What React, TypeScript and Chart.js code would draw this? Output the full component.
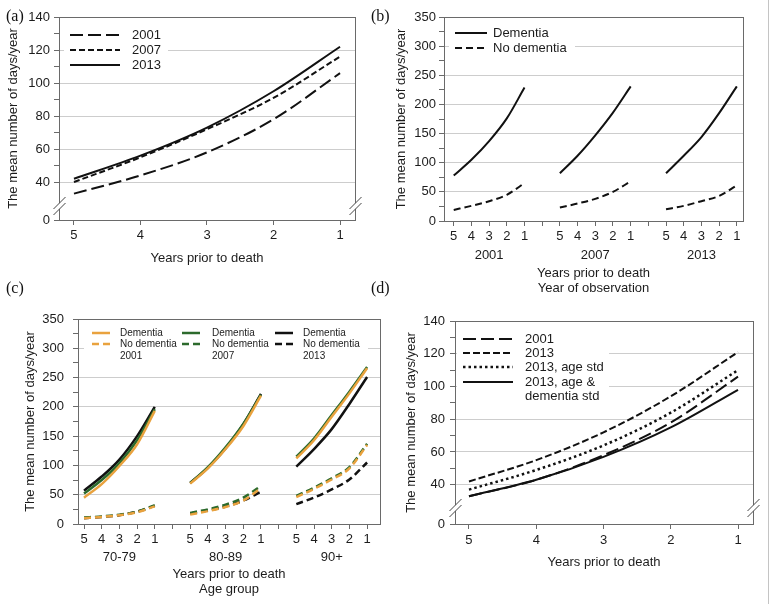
import React, { useEffect, useRef } from 'react';
import { Chart, registerables } from 'chart.js';
Chart.register(...registerables);

// ---------- data ----------
const YEARS_PRIOR = [5, 4, 3, 2, 1];

// (a)
const A_2001 = [33, 44, 58, 78, 106];
const A_2007 = [40, 55, 72, 91, 116];
const A_2013 = [42, 56, 73, 95, 122];

// (b)
const OBS_YEARS = ['2001', '2007', '2013'];
const B_DEMENTIA = [[78, 105, 137, 176, 229], [82, 112, 147, 186, 231], [82, 112, 144, 185, 231]];
const B_NO_DEMENTIA = [[19, 26, 34, 45, 65], [23, 30, 38, 50, 68], [20, 26, 34, 43, 61]];

// (c)
const AGE_GROUPS = ['70-79', '80-89', '90+'];
const C_DEM_2001 = [[45, 68, 99, 136, 193], [69, 95, 128, 167, 219], [112, 143, 183, 223, 266]];
const C_DEM_2007 = [[52, 75, 104, 143, 196], [70, 97, 131, 171, 221], [115, 146, 186, 226, 268]];
const C_DEM_2013 = [[57, 81, 110, 150, 200], [70, 96, 129, 170, 222], [98, 128, 162, 205, 251]];
const C_NODEM_2001 = [[10, 12, 15, 20, 30], [16, 22, 29, 40, 61], [46, 60, 76, 95, 135]];
const C_NODEM_2007 = [[11, 13, 16, 21, 32], [19, 25, 33, 45, 65], [48, 62, 78, 97, 137]];
const C_NODEM_2013 = [[10, 12, 15, 21, 31], [18, 23, 30, 40, 55], [34, 45, 59, 76, 105]];

// (d)
const D_2001 = [33, 43, 58, 78, 106];
const D_2013 = [42, 55, 72, 94, 121];
const D_2013_AGE = [37, 49, 64, 84, 110];
const D_2013_AGE_DEM = [33, 43, 57, 75, 98];

// ---------- style ----------
const FONT = '"Liberation Sans", Arial, Helvetica, sans-serif';
const TEXT = '#1c1c1c';
const GRID = '#cdcdcd';
const AXIS = '#6a6a6a';
const BLACK = '#111111';
const ORANGE = '#E9A23E';
const GREEN = '#2C6A2C';
const Y_TITLE = 'The mean number of days/year';

function line(label: string, data: any[], color: string, width: number, dash: number[]) {
  return {
    label, data, borderColor: color, borderWidth: width, borderDash: dash,
    pointRadius: 0, pointHoverRadius: 0, cubicInterpolationMode: 'monotone', fill: false, borderCapStyle: 'butt',
  };
}

const decorPlugin = {
  id: 'decor',
  beforeDatasetsDraw(chart: any, _a: any, opts: any) {
    const ctx = chart.ctx;
    ctx.save();
    ctx.fillStyle = '#ffffff';
    (opts.bg || []).forEach((r: number[]) => ctx.fillRect(r[0], r[1], r[2], r[3]));
    ctx.restore();
  },
  afterDatasetsDraw(chart: any, _a: any, opts: any) {
    const ctx = chart.ctx;
    const { left, right, top, bottom } = chart.chartArea;
    ctx.save();
    ctx.strokeStyle = AXIS;
    ctx.lineWidth = 1;
    ctx.setLineDash([]);
    const L = Math.round(left) + 0.5, R = Math.round(right) + 0.5;
    const T = Math.round(top) + 0.5, B = Math.round(bottom) + 0.5;
    ctx.strokeRect(L, T, R - L, B - T);
    if (opts.breakOffset) {
      const yc = bottom - opts.breakOffset;
      [L, R].forEach((x0) => {
        ctx.fillStyle = '#ffffff';
        ctx.beginPath();
        ctx.moveTo(x0 - 6, yc + 3);
        ctx.lineTo(x0 + 6, yc - 9);
        ctx.lineTo(x0 + 6, yc - 3);
        ctx.lineTo(x0 - 6, yc + 9);
        ctx.closePath();
        ctx.fill();
        ctx.strokeStyle = '#444';
        ctx.beginPath();
        ctx.moveTo(x0 - 6, yc + 3); ctx.lineTo(x0 + 6, yc - 9);
        ctx.moveTo(x0 - 6, yc + 9); ctx.lineTo(x0 + 6, yc - 3);
        ctx.stroke();
      });
    }
    const font = `${opts.fontSize || 13}px ${FONT}`;
    ctx.font = font;
    ctx.textBaseline = 'middle';
    ctx.textAlign = 'left';
    (opts.items || []).forEach((it: any) => {
      const ds = chart.data.datasets[it.ds];
      ctx.beginPath();
      ctx.strokeStyle = ds.borderColor;
      ctx.lineWidth = ds.borderWidth;
      ctx.setLineDash(ds.borderDash || []);
      ctx.moveTo(it.x, it.y);
      ctx.lineTo(it.x + it.w, it.y);
      ctx.stroke();
      ctx.setLineDash([]);
      ctx.fillStyle = TEXT;
      ctx.fillText(it.text ?? ds.label, it.tx, it.y);
    });
    (opts.texts || []).forEach((t: any) => {
      ctx.fillStyle = TEXT;
      ctx.fillText(t.text, t.x, t.y);
    });
    if (opts.groups) {
      const xs = chart.scales.x;
      ctx.font = `13px ${FONT}`;
      ctx.textAlign = 'center';
      ctx.fillStyle = TEXT;
      opts.groups.labels.forEach((lab: string, i: number) => {
        ctx.fillText(lab, xs.getPixelForValue(opts.groups.centers[i]), bottom + opts.groups.dy);
      });
    }
    ctx.restore();
  },
};

function yScale(o: any) {
  return {
    type: 'linear', position: 'left', min: o.min, max: o.max,
    afterBuildTicks: (s: any) => { s.ticks = o.ticks.map((v: number) => ({ value: v })); },
    afterFit: (s: any) => { s.width = o.width; },
    ticks: {
      autoSkip: false, padding: o.tickPad, color: TEXT, font: { family: FONT, size: 13 },
      callback: (v: number) => o.label(v),
    },
    grid: {
      drawTicks: true, tickLength: 5, tickColor: AXIS, lineWidth: 1,
      color: (c: any) => (c.tick && o.grid(c.tick.value) ? GRID : 'rgba(0,0,0,0)'),
    },
    border: { display: false },
    title: {
      display: true, text: Y_TITLE, color: TEXT, font: { family: FONT, size: 13 },
      padding: { top: o.titlePad, bottom: 0 },
    },
  };
}

function xYearsScale(o: any) {
  return {
    type: 'linear', position: 'bottom', reverse: true, min: o.min, max: o.max,
    afterBuildTicks: (s: any) => { s.ticks = YEARS_PRIOR.map((v) => ({ value: v })); },
    afterFit: (s: any) => { s.height = o.height; },
    ticks: { autoSkip: false, padding: o.tickPad, color: TEXT, font: { family: FONT, size: 13 }, callback: (v: number) => String(v) },
    grid: { drawOnChartArea: false, drawTicks: true, tickLength: 5, tickColor: AXIS },
    border: { display: false },
    title: { display: true, text: 'Years prior to death', color: TEXT, font: { family: FONT, size: 13 }, padding: { top: 0, bottom: o.titlePad } },
  };
}

// grouped x positions: group g, years prior yp
const GROUP_STEP = YEARS_PRIOR.length + 1;
const gpos = (g: number, yp: number) => g * GROUP_STEP + (YEARS_PRIOR[0] - yp);
const GROUP_TICKS: number[] = [];
for (let g = 0; g < 3; g++) {
  YEARS_PRIOR.forEach((yp) => GROUP_TICKS.push(gpos(g, yp)));
  if (g < 2) GROUP_TICKS.push(g * GROUP_STEP + YEARS_PRIOR.length);
}
const GROUP_CENTERS = [0, 1, 2].map((g) => gpos(g, YEARS_PRIOR[2]));

function xGroupScale(o: any) {
  return {
    type: 'linear', position: 'bottom', min: o.min, max: o.max,
    afterBuildTicks: (s: any) => { s.ticks = GROUP_TICKS.map((v) => ({ value: v })); },
    afterFit: (s: any) => { s.height = o.height; },
    ticks: {
      autoSkip: false, padding: o.tickPad, color: TEXT, font: { family: FONT, size: 13 },
      callback: (v: number) => {
        const k = v % GROUP_STEP;
        return k < YEARS_PRIOR.length ? String(YEARS_PRIOR[k]) : '';
      },
    },
    grid: { drawOnChartArea: false, drawTicks: true, tickLength: 5, tickColor: AXIS },
    border: { display: false },
    title: { display: true, text: o.title, color: TEXT, font: { family: FONT, size: 13, lineHeight: 1.15 }, padding: { top: 0, bottom: o.titlePad } },
  };
}

const basePlugins = { legend: { display: false }, tooltip: { enabled: false } };

function configA() {
  const pts = (vals: number[]) => YEARS_PRIOR.map((yp, i) => ({ x: yp, y: vals[i] }));
  const datasets = [
    line('2001', pts(A_2001), BLACK, 2, [13, 5]),
    line('2007', pts(A_2007), BLACK, 2, [6, 3]),
    line('2013', pts(A_2013), BLACK, 2, []),
  ];
  const yTicks = [17, 40, 50, 60, 70, 80, 90, 100, 110, 120, 130, 140];
  return {
    type: 'line',
    data: { datasets },
    options: {
      responsive: false, animation: false, devicePixelRatio: 1, events: [],
      layout: { padding: { top: 17, right: 30, left: 0, bottom: 0 } },
      plugins: {
        ...basePlugins,
        decor: {
          breakOffset: 14, fontSize: 13,
          bg: [[64, 25, 104, 50]],
          items: [
            { ds: 0, x: 70, w: 50, tx: 132, y: 35 },
            { ds: 1, x: 70, w: 50, tx: 132, y: 50 },
            { ds: 2, x: 70, w: 50, tx: 132, y: 65 },
          ],
        },
      },
      scales: {
        x: xYearsScale({ min: 0.775, max: 5.225, height: 80, tickPad: 2.2, titlePad: 34 }),
        y: yScale({
          min: 17, max: 140, ticks: yTicks, width: 59, tickPad: 4, titlePad: 6,
          label: (v: number) => (v === 17 ? '0' : v % 20 === 0 ? String(v) : ''),
          grid: (v: number) => v >= 40 && v <= 120 && v % 20 === 0,
        }),
      },
    },
    plugins: [decorPlugin],
  };
}

function configB() {
  const datasets: any[] = [];
  OBS_YEARS.forEach((_, g) => {
    datasets.push(line('Dementia', YEARS_PRIOR.map((yp, i) => ({ x: gpos(g, yp), y: B_DEMENTIA[g][i] })), BLACK, 2, []));
    datasets.push(line('No dementia', YEARS_PRIOR.map((yp, i) => ({ x: gpos(g, yp), y: B_NO_DEMENTIA[g][i] })), BLACK, 2, [7, 4]));
  });
  const yTicks: number[] = [];
  for (let v = 0; v <= 350; v += 25) yTicks.push(v);
  return {
    type: 'line',
    data: { datasets },
    options: {
      responsive: false, animation: false, devicePixelRatio: 1, events: [],
      layout: { padding: { top: 17, right: 29, left: 0, bottom: 0 } },
      plugins: {
        ...basePlugins,
        decor: {
          fontSize: 13,
          bg: [[64, 24, 126, 34]],
          items: [
            { ds: 0, x: 70, w: 32, tx: 108, y: 33 },
            { ds: 1, x: 70, w: 32, tx: 108, y: 48 },
          ],
          groups: { labels: OBS_YEARS, centers: GROUP_CENTERS, dy: 34 },
        },
      },
      scales: {
        x: xGroupScale({ min: -0.55, max: 16.35, height: 79, tickPad: 2.2, titlePad: 4, title: ['Years prior to death', 'Year of observation'] }),
        y: yScale({
          min: 0, max: 350, ticks: yTicks, width: 59, tickPad: 3, titlePad: 9,
          label: (v: number) => (v % 50 === 0 ? String(v) : ''),
          grid: (v: number) => v > 0 && v < 350 && v % 50 === 0,
        }),
      },
    },
    plugins: [decorPlugin],
  };
}

function configC() {
  const series = [
    { label: 'No dementia', vals: C_NODEM_2001, color: ORANGE, dash: [7, 4] },
    { label: 'Dementia', vals: C_DEM_2001, color: ORANGE, dash: [] },
    { label: 'No dementia', vals: C_NODEM_2007, color: GREEN, dash: [7, 4] },
    { label: 'Dementia', vals: C_DEM_2007, color: GREEN, dash: [] },
    { label: 'No dementia', vals: C_NODEM_2013, color: BLACK, dash: [7, 4] },
    { label: 'Dementia', vals: C_DEM_2013, color: BLACK, dash: [] },
  ];
  const datasets: any[] = [];
  const first: number[] = [];
  series.forEach((s) => {
    first.push(datasets.length);
    AGE_GROUPS.forEach((_, g) => {
      datasets.push(line(s.label, YEARS_PRIOR.map((yp, i) => ({ x: gpos(g, yp), y: s.vals[g][i] })), s.color, 2.5, s.dash));
    });
  });
  const yTicks: number[] = [];
  for (let v = 0; v <= 350; v += 25) yTicks.push(v);
  const cols = [{ x: 92, tx: 120, year: '2001', dem: first[1], nod: first[0] },
    { x: 182, tx: 212, year: '2007', dem: first[3], nod: first[2] },
    { x: 275, tx: 303, year: '2013', dem: first[5], nod: first[4] }];
  const items: any[] = [];
  const texts: any[] = [];
  cols.forEach((c) => {
    items.push({ ds: c.dem, x: c.x, w: 18, tx: c.tx, y: 33 });
    items.push({ ds: c.nod, x: c.x, w: 18, tx: c.tx, y: 44 });
    texts.push({ text: c.year, x: c.tx, y: 56 });
  });
  return {
    type: 'line',
    data: { datasets },
    options: {
      responsive: false, animation: false, devicePixelRatio: 1, events: [],
      layout: { padding: { top: 19, right: 5, left: 0, bottom: 0 } },
      plugins: {
        ...basePlugins,
        decor: {
          fontSize: 10,
          bg: [[84, 26, 284, 38]],
          items, texts,
          groups: { labels: AGE_GROUPS, centers: GROUP_CENTERS, dy: 33 },
        },
      },
      scales: {
        x: xGroupScale({ min: -0.34, max: 16.73, height: 80, tickPad: 2.2, titlePad: 7, title: ['Years prior to death', 'Age group'] }),
        y: yScale({
          min: 0, max: 350, ticks: yTicks, width: 78, tickPad: 9, titlePad: 23,
          label: (v: number) => (v % 50 === 0 ? String(v) : ''),
          grid: (v: number) => v > 0 && v < 350 && v % 50 === 0,
        }),
      },
    },
    plugins: [decorPlugin],
  };
}

function configD() {
  const pts = (vals: number[]) => YEARS_PRIOR.map((yp, i) => ({ x: yp, y: vals[i] }));
  const datasets = [
    line('2001', pts(D_2001), BLACK, 2, [13, 5]),
    line('2013', pts(D_2013), BLACK, 2, [7, 3]),
    line('2013, age std', pts(D_2013_AGE), BLACK, 2.5, [2.5, 3]),
    line('2013, age &', pts(D_2013_AGE_DEM), BLACK, 2, []),
  ];
  const yTicks = [16, 40, 50, 60, 70, 80, 90, 100, 110, 120, 130, 140];
  return {
    type: 'line',
    data: { datasets },
    options: {
      responsive: false, animation: false, devicePixelRatio: 1, events: [],
      layout: { padding: { top: 21, right: 19, left: 0, bottom: 0 } },
      plugins: {
        ...basePlugins,
        decor: {
          breakOffset: 16, fontSize: 13,
          bg: [[72, 30, 152, 76]],
          items: [
            { ds: 0, x: 78, w: 50, tx: 140, y: 39 },
            { ds: 1, x: 78, w: 50, tx: 140, y: 53 },
            { ds: 2, x: 78, w: 50, tx: 140, y: 67 },
            { ds: 3, x: 78, w: 50, tx: 140, y: 82 },
          ],
          texts: [{ text: 'dementia std', x: 140, y: 96 }],
        },
      },
      scales: {
        x: xYearsScale({ min: 0.777, max: 5.208, height: 80, tickPad: 4, titlePad: 34 }),
        y: yScale({
          min: 16, max: 140, ticks: yTicks, width: 70, tickPad: 5, titlePad: 19,
          label: (v: number) => (v === 16 ? '0' : v % 20 === 0 ? String(v) : ''),
          grid: (v: number) => v >= 40 && v <= 120 && v % 20 === 0,
        }),
      },
    },
    plugins: [decorPlugin],
  };
}

function ChartCanvas(props: { left: number; top: number; width: number; height: number; make: () => any }) {
  const ref = useRef<HTMLCanvasElement>(null);
  useEffect(() => {
    const chart = new Chart(ref.current as HTMLCanvasElement, props.make());
    return () => chart.destroy();
  }, []);
  return (
    <canvas
      ref={ref}
      width={props.width}
      height={props.height}
      style={{ position: 'absolute', left: props.left, top: props.top, width: props.width, height: props.height }}
    />
  );
}

const labelStyle = (left: number, top: number): React.CSSProperties => ({
  position: 'absolute', left, top, fontFamily: '"Liberation Serif", "Times New Roman", serif', fontSize: 16, color: '#111', lineHeight: '18px',
});

export default function App() {
  return (
    <div style={{ position: 'fixed', left: 0, top: 0, width: 772, height: 604, background: '#fff', overflow: 'hidden' }}>
      <ChartCanvas left={0} top={0} width={385} height={300} make={configA} />
      <ChartCanvas left={385} top={0} width={387} height={300} make={configB} />
      <ChartCanvas left={0} top={300} width={385} height={304} make={configC} />
      <ChartCanvas left={385} top={300} width={387} height={304} make={configD} />
      <span style={labelStyle(6, 7)}>(a)</span>
      <span style={labelStyle(371, 7)}>(b)</span>
      <span style={labelStyle(6, 279)}>(c)</span>
      <span style={labelStyle(371, 279)}>(d)</span>
      <div style={{ position: 'absolute', left: 768, top: 0, width: 1, height: 604, background: '#c4c4c4' }} />
    </div>
  );
}
